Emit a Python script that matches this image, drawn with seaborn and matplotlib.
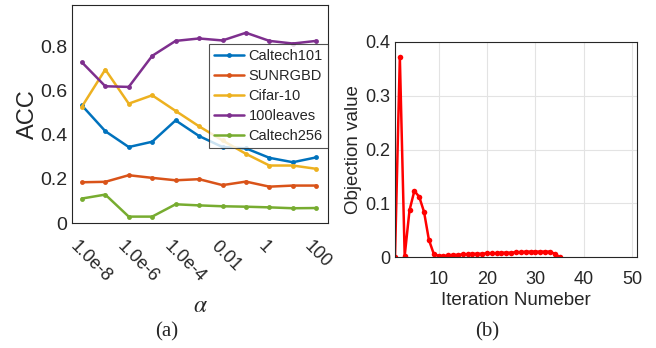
import numpy as np
import pandas as pd
import matplotlib
matplotlib.use('Agg')
import matplotlib.pyplot as plt
import matplotlib.transforms as mtransforms
import seaborn as sns

# ---- data (a): accuracy vs alpha ----
alpha = [1e-8, 1e-7, 1e-6, 1e-5, 1e-4, 1e-3, 1e-2, 1e-1, 1, 10, 100]
alpha_ticks = [1e-8, 1e-6, 1e-4, 1e-2, 1, 100]
alpha_tick_labels = ['1.0e-8', '1.0e-6', '1.0e-4', '0.01', '1', '100']

caltech101 = [0.534, 0.417, 0.345, 0.369, 0.466, 0.395, 0.345, 0.339, 0.296, 0.276, 0.298]
sunrgbd = [0.185, 0.187, 0.217, 0.205, 0.194, 0.199, 0.172, 0.188, 0.165, 0.170, 0.170]
cifar10 = [0.528, 0.697, 0.542, 0.580, 0.509, 0.439, 0.375, 0.314, 0.261, 0.261, 0.246]
leaves100 = [0.730, 0.621, 0.618, 0.759, 0.827, 0.838, 0.829, 0.864, 0.827, 0.815, 0.827]
caltech256 = [0.111, 0.129, 0.029, 0.029, 0.085, 0.080, 0.076, 0.074, 0.071, 0.067, 0.068]

series_names = ['Caltech101', 'SUNRGBD', 'Cifar-10', '100leaves', 'Caltech256']
series_vals = [caltech101, sunrgbd, cifar10, leaves100, caltech256]
colors = ['#0072BD', '#D95319', '#EDB120', '#7E2F8E', '#77AC30']

# ---- data (b): objective value vs iteration ----
iterations = list(range(1, 36))
objective = [0.0, 0.372, 0.002, 0.087, 0.123, 0.112, 0.084, 0.032, 0.006, 0.002,
             0.002, 0.003, 0.004, 0.004, 0.005, 0.005, 0.006, 0.006, 0.006, 0.007,
             0.007, 0.007, 0.008, 0.008, 0.008, 0.009, 0.009, 0.010, 0.010, 0.010,
             0.010, 0.010, 0.010, 0.006, 0.0]

sns.set_style('white')
plt.rcParams['font.family'] = ['Liberation Sans', 'DejaVu Sans']
plt.rcParams['mathtext.fontset'] = 'stix'

fig = plt.figure(figsize=(6.56, 3.48), dpi=100)
W, H = 656, 348
ax1 = fig.add_axes([72 / W, (H - 223) / H, (328 - 72) / W, (223 - 5) / H])
ax2 = fig.add_axes([395 / W, (H - 257) / H, (637 - 395) / W, (257 - 42) / H])

# (a)
for name, vals, c in zip(series_names, series_vals, colors):
    sns.lineplot(x=alpha, y=vals, ax=ax1, color=c, label=name, lw=1.8,
                 marker='o', markersize=3.5, markeredgewidth=0)
ax1.set_xscale('log')
ax1.set_xlim(10 ** -8.42, 10 ** 2.5)
ax1.set_ylim(0, 0.99)
ax1.set_yticks([0, 0.2, 0.4, 0.6, 0.8])
ax1.set_yticklabels(['0', '0.2', '0.4', '0.6', '0.8'])
ax1.set_xticks(alpha_ticks)
ax1.set_xticklabels(alpha_tick_labels, rotation=-45, rotation_mode='anchor',
                    ha='left', va='top')
ax1.minorticks_off()
ax1.tick_params(direction='in', length=3, colors='#262626')
ax1.tick_params(axis='y', labelsize=14)
ax1.tick_params(axis='x', labelsize=13, pad=11)
shift = mtransforms.ScaledTranslation(-3 / 100, 0, fig.dpi_scale_trans)
for lab in ax1.get_xticklabels():
    lab.set_transform(lab.get_transform() + shift)
ax1.set_ylabel('ACC', fontsize=17, color='#262626', labelpad=1)
ax1.set_xlabel(r'$\alpha$', fontsize=17, color='#262626', labelpad=6)
for s in ax1.spines.values():
    s.set_color('#262626')
    s.set_linewidth(0.8)
leg = ax1.legend(loc='upper right', bbox_to_anchor=(1.0, 0.82), fontsize=10.5,
                 frameon=True, fancybox=False, edgecolor='#262626',
                 borderpad=0.35, labelspacing=0.4, handlelength=2.0,
                 handletextpad=0.35, borderaxespad=0)
leg.get_frame().set_linewidth(0.8)

# (b)
sns.lineplot(x=iterations, y=objective, ax=ax2, color='#FF0000', lw=1.8,
             marker='o', markersize=4, markeredgewidth=0)
ax2.set_xlim(1, 51)
ax2.set_ylim(0, 0.4)
ax2.set_xticks([10, 20, 30, 40, 50])
ax2.set_yticks([0, 0.1, 0.2, 0.3, 0.4])
ax2.set_yticklabels(['0', '0.1', '0.2', '0.3', '0.4'])
ax2.grid(True, color='#E3E3E3', lw=0.8)
ax2.tick_params(direction='in', length=3, labelsize=13, colors='#262626')
ax2.tick_params(axis='x', pad=10)
ax2.set_ylabel('Objection value', fontsize=13.5, color='#262626', labelpad=2)
ax2.set_xlabel('Iteration Numeber', fontsize=13.5, color='#262626', labelpad=3)
for s in ax2.spines.values():
    s.set_color('#262626')
    s.set_linewidth(0.8)

fig.text(167 / W, 1 - 332 / H, '(a)', fontsize=15, family='Liberation Serif',
         ha='center', va='center')
fig.text(487 / W, 1 - 332 / H, '(b)', fontsize=15, family='Liberation Serif',
         ha='center', va='center')

fig.savefig('out.png', dpi=100)
